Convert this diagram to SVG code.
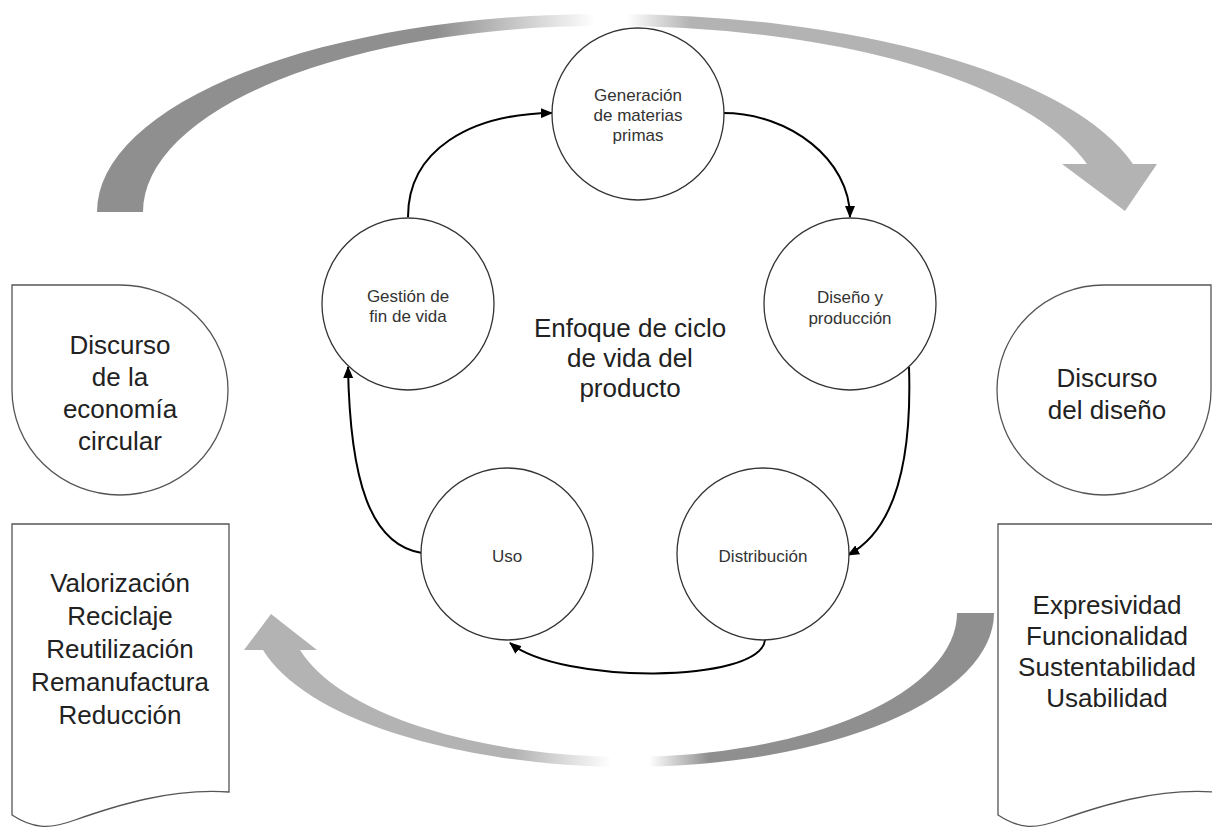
<svg xmlns="http://www.w3.org/2000/svg" width="1212" height="830" viewBox="0 0 1212 830">
<style>
.node{fill:#fff;stroke:#333;stroke-width:1.3}
.box{fill:#fff;stroke:#555;stroke-width:1.3}
.t{font-family:"Liberation Sans",Arial,sans-serif;fill:#222;text-anchor:middle}
.s{font-size:17px;fill:#333}
.b{font-size:26px}
.c{fill:none;stroke:#000;stroke-width:2;marker-end:url(#ah)}
</style>
<defs>
<marker id="ah" markerWidth="12" markerHeight="10" refX="11" refY="5" orient="auto" markerUnits="userSpaceOnUse">
<path d="M0,0 L12,5 L0,10 Z" fill="#000"/>
</marker>
<linearGradient id="gTop" gradientUnits="userSpaceOnUse" x1="97" y1="0" x2="1157" y2="0">
<stop offset="0" stop-color="#8f8f8f"/>
<stop offset="0.32" stop-color="#8f8f8f"/>
<stop offset="0.47" stop-color="#ffffff"/>
<stop offset="0.50" stop-color="#ffffff"/>
<stop offset="0.56" stop-color="#b3b3b3"/>
<stop offset="1" stop-color="#b3b3b3"/>
</linearGradient>
<linearGradient id="gBot" gradientUnits="userSpaceOnUse" x1="244" y1="0" x2="994" y2="0">
<stop offset="0" stop-color="#b3b3b3"/>
<stop offset="0.36" stop-color="#b3b3b3"/>
<stop offset="0.49" stop-color="#ffffff"/>
<stop offset="0.54" stop-color="#ffffff"/>
<stop offset="0.62" stop-color="#8f8f8f"/>
<stop offset="1" stop-color="#8f8f8f"/>
</linearGradient>
</defs>

<g id="big-arrow-top">
<path d="M97,212 A506,198 0 0 1 603,14 A540,198 0 0 1 1133,164 L1157,164 L1125,211 L1062,164 L1087,164 A490,186 0 0 0 603,26 A459,186 0 0 0 143,212 Z" fill="url(#gTop)"/>
</g>
<g id="big-arrow-bottom">
<path d="M994,613 A366,154 0 0 1 628,767 A380,154 0 0 1 263,650 L244,650 L271,614 L317,650 L300,650 A340,144 0 0 0 628,757 A329,144 0 0 0 957,613 Z" fill="url(#gBot)"/>
</g>

<g id="connectors">
<path class="c" d="M408,217 C408,150 470,114 552,113"/>
<path class="c" d="M723,113 C790,113 850,160 850,217"/>
<path class="c" d="M909,367 C912,460 895,530 848,555"/>
<path class="c" d="M765,640 C760,684 560,684 510,643"/>
<path class="c" d="M422,553 C370,545 350,480 348,367"/>
</g>

<g id="node-generacion">
<circle class="node" cx="638" cy="114" r="86"/>
<text class="t s" x="638" y="101">Generación</text>
<text class="t s" x="638" y="121">de materias</text>
<text class="t s" x="638" y="141">primas</text>
</g>
<g id="node-gestion">
<circle class="node" cx="408" cy="304" r="86"/>
<text class="t s" x="408" y="302">Gestión de</text>
<text class="t s" x="408" y="322">fin de vida</text>
</g>
<g id="node-diseno">
<circle class="node" cx="850" cy="304" r="86"/>
<text class="t s" x="850" y="303">Diseño y</text>
<text class="t s" x="850" y="324">producción</text>
</g>
<g id="node-uso">
<circle class="node" cx="507" cy="554" r="86"/>
<text class="t s" x="507" y="562">Uso</text>
</g>
<g id="node-distribucion">
<circle class="node" cx="763" cy="554" r="86"/>
<text class="t s" x="763" y="562">Distribución</text>
</g>

<g id="center-label">
<text class="t b" x="630" y="337">Enfoque de ciclo</text>
<text class="t b" x="630" y="367">de vida del</text>
<text class="t b" x="630" y="397">producto</text>
</g>

<g id="discurso-economia">
<path class="box" d="M12,285 H120 A108,105 0 1 1 12,390 Z"/>
<text class="t b" x="120" y="354">Discurso</text>
<text class="t b" x="120" y="386">de la</text>
<text class="t b" x="120" y="418">economía</text>
<text class="t b" x="120" y="450">circular</text>
</g>
<g id="lista-economia">
<path class="box" d="M12,524 H229 V792 C170,788 115,806 75,820 C48,830 32,828 12,815 Z"/>
<text class="t b" x="120" y="592">Valorización</text>
<text class="t b" x="120" y="625">Reciclaje</text>
<text class="t b" x="120" y="658">Reutilización</text>
<text class="t b" x="120" y="691">Remanufactura</text>
<text class="t b" x="120" y="724">Reducción</text>
</g>

<g id="discurso-diseno">
<path class="box" d="M1211,285 H1104 A107,105 0 1 0 1211,390 Z"/>
<text class="t b" x="1107" y="387">Discurso</text>
<text class="t b" x="1107" y="419">del diseño</text>
</g>
<g id="lista-diseno">
<path class="box" d="M998,524 H1214 V792 C1155,788 1100,806 1060,820 C1033,830 1018,828 998,815 Z"/>
<text class="t b" x="1107" y="614">Expresividad</text>
<text class="t b" x="1107" y="645">Funcionalidad</text>
<text class="t b" x="1107" y="676">Sustentabilidad</text>
<text class="t b" x="1107" y="707">Usabilidad</text>
</g>
</svg>
